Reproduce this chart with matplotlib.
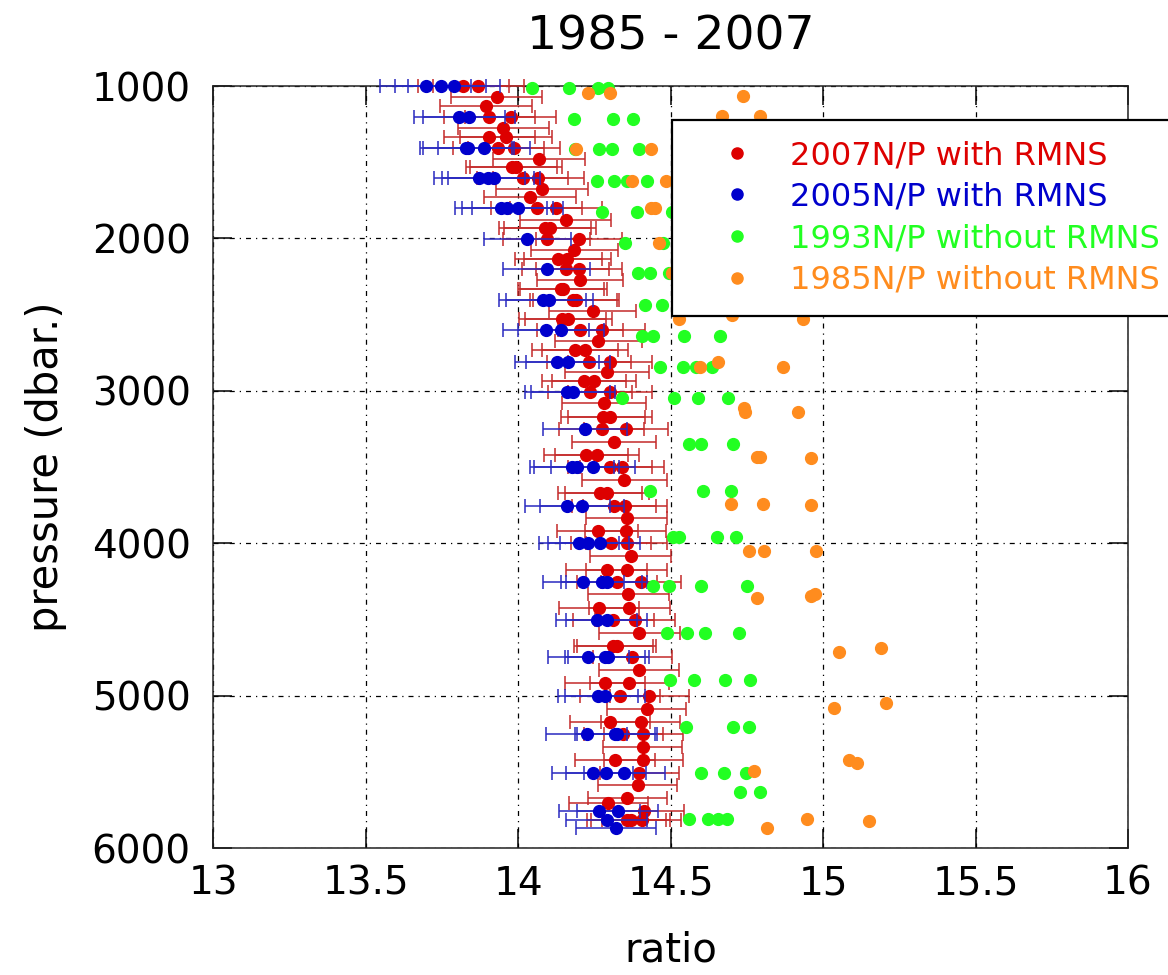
import numpy as np
import matplotlib
matplotlib.use('Agg')
import matplotlib.pyplot as plt
from matplotlib.lines import Line2D

plt.rcParams['font.family'] = ['DejaVu Sans']

# ─────────────────────────────────────────────
# data
# ─────────────────────────────────────────────

# 2007 N/P with RMNS  (pressure, ratio, half error)
red_p = [1000, 1000, 1074, 1131, 1201, 1201, 1273, 1332, 1332, 1405, 1405,
         1477, 1534, 1534, 1604, 1604, 1674, 1730, 1800, 1800, 1879, 1934, 1934,
         2006, 2006, 2076, 2137, 2137, 2203, 2203, 2273, 2334, 2334, 2404, 2404,
         2474, 2531, 2531, 2601, 2601, 2673, 2732, 2732,
         2809, 2809, 2875, 2934, 2934, 3006, 3006, 3083, 3170, 3170, 3253, 3253,
         3334, 3422, 3422, 3502, 3502, 3586, 3673, 3673, 3754, 3754,
         3837, 3918, 3918, 4001, 4001, 4084, 4176, 4176, 4253, 4253, 4334,
         4423, 4423, 4504, 4504, 4587,
         4675, 4675, 4749, 4832, 4920, 4920, 5003, 5003, 5088, 5175, 5175,
         5254, 5254, 5335, 5423, 5423, 5506, 5587, 5674, 5702, 5755,
         5816, 5816, 5816]
red_x = [13.821, 13.870, 13.930, 13.895, 13.906, 13.976, 13.952, 13.906, 13.960, 13.936, 13.987,
         14.069, 13.979, 13.993, 14.015, 14.067, 14.078, 14.039, 14.061, 14.124, 14.156, 14.089, 14.105,
         14.094, 14.200, 14.185, 14.132, 14.162, 14.156, 14.200, 14.203, 14.141, 14.149, 14.181, 14.190,
         14.245, 14.145, 14.165, 14.203, 14.274, 14.263, 14.187, 14.220,
         14.234, 14.302, 14.291, 14.216, 14.250, 14.236, 14.302, 14.283, 14.280, 14.302, 14.274, 14.353,
         14.316, 14.223, 14.260, 14.302, 14.342, 14.349, 14.269, 14.291, 14.316, 14.351,
         14.356, 14.261, 14.353, 14.305, 14.356, 14.369, 14.291, 14.356, 14.324, 14.403, 14.362,
         14.266, 14.365, 14.313, 14.384, 14.398,
         14.313, 14.324, 14.375, 14.397, 14.285, 14.365, 14.334, 14.430, 14.422, 14.302, 14.402,
         14.345, 14.411, 14.409, 14.318, 14.411, 14.398, 14.392, 14.358, 14.296, 14.413,
         14.356, 14.369, 14.405]
red_err = [0.150] * 23 + [0.142] * 20 + [0.138] * 22 + [0.132] * 16 + [0.130] * 24

# 2005 N/P with RMNS
blue_p = [1000, 1000, 1000, 1201, 1201, 1405, 1405, 1405, 1604, 1604, 1604,
          1800, 1800, 1800, 2006, 2203, 2404, 2404, 2601, 2601,
          2809, 2809, 3006, 3006, 3253, 3502, 3502, 3502, 3754, 3754,
          4001, 4001, 4001, 4253, 4253, 4253, 4504, 4504, 4749, 4749, 4749,
          5003, 5003, 5254, 5254, 5254, 5506, 5506, 5506, 5755, 5755, 5816, 5871]
blue_x = [13.697, 13.746, 13.790, 13.808, 13.840, 13.830, 13.837, 13.889, 13.873, 13.901, 13.921,
          13.944, 13.965, 13.999, 14.031, 14.094, 14.081, 14.103, 14.092, 14.141,
          14.127, 14.165, 14.162, 14.181, 14.220, 14.176, 14.192, 14.245, 14.162, 14.209,
          14.200, 14.231, 14.269, 14.214, 14.274, 14.291, 14.258, 14.291, 14.231, 14.285, 14.296,
          14.263, 14.285, 14.225, 14.318, 14.324, 14.245, 14.289, 14.349, 14.267, 14.327, 14.291, 14.321]
blue_err = [0.150] * 14 + [0.142] * 6 + [0.138] * 10 + [0.132] * 23

# 1993 N/P without RMNS
green_p = [1015, 1015, 1015, 1015, 1219, 1219, 1219, 1415, 1415, 1415, 1415,
           1623, 1623, 1623, 1623, 1824, 1824, 1824, 2028, 2028, 2229, 2229, 2229,
           2437, 2437, 2640, 2640, 2640, 2640, 2841, 2841, 2841, 2841,
           3049, 3049, 3049, 3049, 3349, 3349, 3349, 3657, 3657, 3657,
           3961, 3961, 3961, 3961, 4280, 4280, 4280, 4280, 4590, 4590, 4590, 4590,
           4897, 4897, 4897, 4897, 5208, 5208, 5208, 5505, 5505, 5505, 5634, 5634,
           5808, 5808, 5808, 5808]
green_x = [14.047, 14.167, 14.261, 14.296, 14.185, 14.310, 14.378, 14.187, 14.266, 14.309, 14.398,
           14.258, 14.315, 14.356, 14.422, 14.277, 14.389, 14.504, 14.351, 14.474, 14.392, 14.433, 14.496,
           14.416, 14.471, 14.405, 14.442, 14.545, 14.662, 14.465, 14.542, 14.585, 14.635,
           14.342, 14.512, 14.590, 14.688, 14.562, 14.600, 14.704, 14.433, 14.608, 14.698,
           14.509, 14.527, 14.651, 14.716, 14.442, 14.494, 14.600, 14.750, 14.487, 14.553, 14.614, 14.725,
           14.499, 14.577, 14.679, 14.761, 14.551, 14.706, 14.756, 14.600, 14.674, 14.747, 14.728, 14.794,
           14.562, 14.624, 14.657, 14.685]

# 1985 N/P without RMNS
orange_p = [1048, 1048, 1063, 1200, 1200, 1415, 1415, 1623, 1623, 1800, 1800, 2028, 2229,
            2502, 2531, 2531, 2809, 2841, 2841, 3110, 3140, 3140, 3432, 3432, 3443,
            3742, 3742, 3752, 4049, 4049, 4049, 4361, 4345, 4335, 4711, 4687,
            5046, 5079, 5422, 5441, 5498, 5811, 5820, 5870]
orange_x = [14.228, 14.302, 14.739, 14.668, 14.792, 14.190, 14.436, 14.373, 14.485, 14.436, 14.449, 14.463, 14.504,
            14.701, 14.529, 14.936, 14.657, 14.597, 14.868, 14.741, 14.745, 14.917, 14.785, 14.794, 14.960,
            14.698, 14.803, 14.960, 14.756, 14.807, 14.977, 14.783, 14.960, 14.975, 15.051, 15.191,
            15.206, 15.036, 15.086, 15.113, 14.774, 14.947, 15.151, 14.816]

labels = ['2007N/P with RMNS', '2005N/P with RMNS',
          '1993N/P without RMNS', '1985N/P without RMNS']
colors = ['#dd0000', '#0000cc', '#22ff22', '#ff8c1e']
ecolors = ['#c42a2a', '#2a2ac0']

x_ticks = [13, 13.5, 14, 14.5, 15, 15.5, 16]
x_tick_labels = ['13', '13.5', '14', '14.5', '15', '15.5', '16']
y_ticks = [1000, 2000, 3000, 4000, 5000, 6000]

# ─────────────────────────────────────────────
# figure
# ─────────────────────────────────────────────

W, H = 1168, 975
fig = plt.figure(figsize=(W / 100, H / 100), dpi=100)
ax = fig.add_axes([213 / W, 1 - 848 / H, (1128 - 213) / W, (848 - 86) / H])

ax.errorbar(red_x, red_p, xerr=red_err, fmt='o', ms=8.5, mfc=colors[0], mec=colors[0],
            ecolor=ecolors[0], elinewidth=1.1, capsize=5, capthick=1.1,
            clip_on=False, zorder=3)
ax.errorbar(blue_x, blue_p, xerr=blue_err, fmt='o', ms=8.5, mfc=colors[1], mec=colors[1],
            ecolor=ecolors[1], elinewidth=1.1, capsize=5, capthick=1.1,
            clip_on=False, zorder=4)
ax.plot(green_x, green_p, 'o', ms=8.5, color=colors[2], clip_on=False, zorder=5)
ax.plot(orange_x, orange_p, 'o', ms=8.5, color=colors[3], clip_on=False, zorder=6)

ax.set_xlim(13, 16)
ax.set_ylim(6000, 1000)
ax.set_xticks(x_ticks)
ax.set_xticklabels(x_tick_labels)
ax.set_yticks(y_ticks)

ax.tick_params(direction='in', length=14, width=1.1, top=True, right=True,
               labelsize=28, pad=12)
ax.tick_params(axis='y', pad=16)
for s in ax.spines.values():
    s.set_linewidth(1.1)
    s.set_color('#222222')

ax.grid(True, color='black', linewidth=0.9, linestyle=(0, (4, 4, 1, 4)))
ax.set_axisbelow(True)

ax.set_title('1985 - 2007', fontsize=34, pad=26)
ax.set_xlabel('ratio', fontsize=29, labelpad=20)
ax.set_ylabel('pressure (dbar.)', fontsize=30, labelpad=18)

handles = [Line2D([], [], marker='o', ls='none', ms=8, color=c) for c in colors]
leg = fig.legend(handles, labels, loc='upper left',
                 bbox_to_anchor=(672 / W, 1 - 311 / H, 540 / W, (311 - 120) / H),
                 mode='expand', fontsize=23, labelcolor=colors,
                 borderpad=0.63, handlelength=2.82, handletextpad=0.25,
                 labelspacing=0.33, borderaxespad=0, fancybox=False,
                 framealpha=1, edgecolor='black')
leg.get_frame().set_linewidth(1.6)
leg.set_zorder(10)

fig.savefig('out.png', dpi=100)
